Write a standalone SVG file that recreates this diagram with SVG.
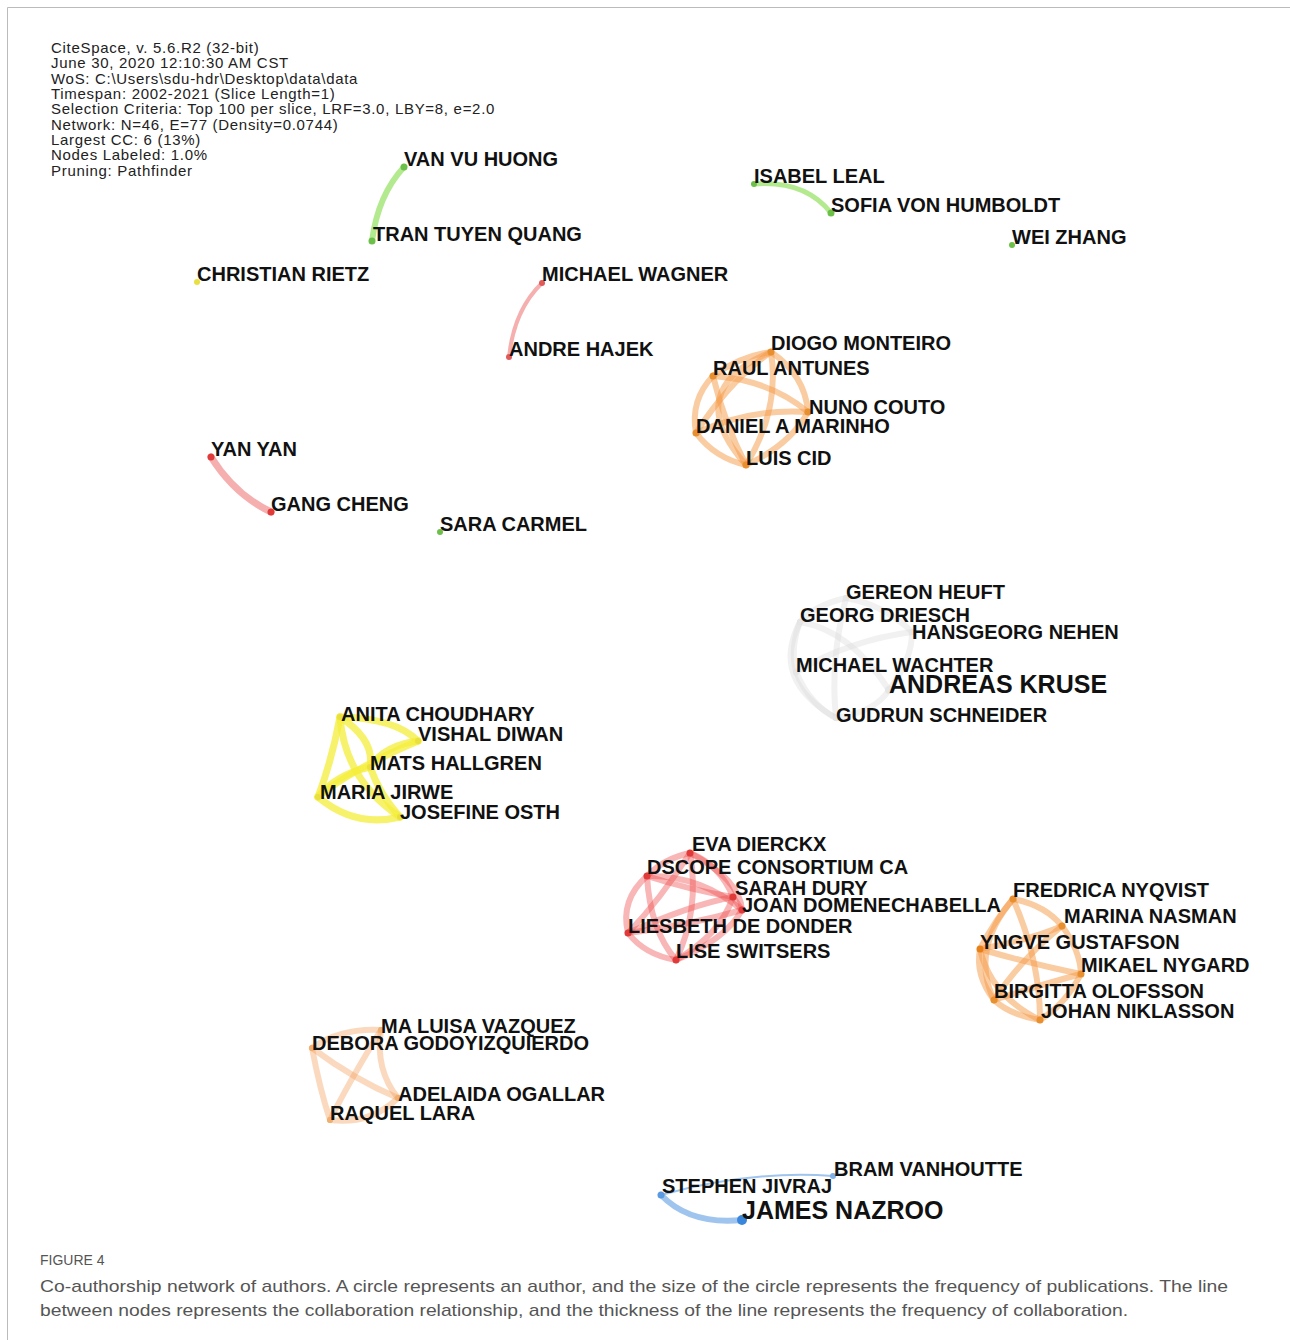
<svg xmlns="http://www.w3.org/2000/svg" width="1290" height="1340" viewBox="0 0 1290 1340">
<style>
.info{font-family:"Liberation Sans",Arial,sans-serif;font-size:15px;letter-spacing:0.7px;fill:#222}
.lb{font-family:"Liberation Sans",Arial,sans-serif;font-size:20px;font-weight:bold;fill:#111}
.big{font-size:25px}
.e{fill:none;stroke-linecap:round}
.gr{stroke:#9be36a;stroke-opacity:.75}
.rd{stroke:#ee4848;stroke-opacity:.4}
.pk{stroke:#ee7a7a;stroke-opacity:.6}
.or{stroke:#f59a45;stroke-opacity:.5}
.or2{stroke:#f2a060;stroke-opacity:.4}
.ye{stroke:#f4ee3a;stroke-opacity:.75}
.gy{stroke:#d8d8d8;stroke-opacity:.35}
.bl{stroke:#7fb0e8;stroke-opacity:.75}
.cap{font-family:"Liberation Sans Narrow","Liberation Sans",Arial,sans-serif;fill:#555}
</style>
<rect width="1290" height="1340" fill="#fff"/>
<path d="M7.5 1340 V7.5 H1290" fill="none" stroke="#bbb" stroke-width="1"/>
<g id="info">
<text class="info" x="51" y="53">CiteSpace, v. 5.6.R2 (32-bit)</text>
<text class="info" x="51" y="68">June 30, 2020 12:10:30 AM CST</text>
<text class="info" x="51" y="84">WoS: C:\Users\sdu-hdr\Desktop\data\data</text>
<text class="info" x="51" y="99">Timespan: 2002-2021 (Slice Length=1)</text>
<text class="info" x="51" y="114">Selection Criteria: Top 100 per slice, LRF=3.0, LBY=8, e=2.0</text>
<text class="info" x="51" y="130">Network: N=46, E=77 (Density=0.0744)</text>
<text class="info" x="51" y="145">Largest CC: 6 (13%)</text>
<text class="info" x="51" y="160">Nodes Labeled: 1.0%</text>
<text class="info" x="51" y="176">Pruning: Pathfinder</text>
</g>
<g id="edges">
<path class="e gr" stroke-width="6" d="M404 167 Q378 195 372 241"/>
<path class="e gr" stroke-width="5" d="M754 184 Q805 180 831 213"/>
<path class="e pk" stroke-width="4" d="M542 283 Q514 310 509 357"/>
<path class="e pk" stroke-width="7" d="M211 457 Q235 495 271 512"/>
<!-- orange cluster 1 -->
<g stroke-width="6">
<path class="e or" d="M771 352 Q740 356 713 376"/>
<path class="e or" d="M713 376 Q690 400 696 433"/>
<path class="e or" d="M696 433 Q715 458 746 465"/>
<path class="e or" d="M746 465 Q790 445 808 412"/>
<path class="e or" d="M771 352 Q805 375 808 412"/>
<path class="e or" d="M713 376 Q770 380 808 412"/>
<path class="e or" d="M771 352 Q780 410 746 465"/>
<path class="e or" d="M696 433 Q750 408 808 412"/>
<path class="e or" d="M713 376 Q725 425 746 465"/>
<path class="e or" d="M771 352 Q730 380 696 433"/>
<path class="e or" d="M771 352 Q680 390 746 465"/>
</g>
<!-- gray cluster -->
<g stroke-width="6">
<path class="e gy" d="M846 598 Q815 605 800 622"/>
<path class="e gy" d="M800 622 Q790 648 796 672"/>
<path class="e gy" d="M796 672 Q810 705 836 718"/>
<path class="e gy" d="M836 718 Q875 712 889 690"/>
<path class="e gy" d="M889 690 Q912 660 912 632"/>
<path class="e gy" d="M912 632 Q885 605 846 598"/>
<path class="e gy" d="M800 622 Q850 630 889 690"/>
<path class="e gy" d="M846 598 Q830 660 836 718"/>
<path class="e gy" d="M796 672 Q850 640 912 632"/>
<path class="e gy" d="M800 622 Q770 680 836 718"/>
</g>
<!-- yellow cluster -->
<g stroke-width="7">
<path class="e ye" d="M340 717 Q395 718 418 741"/>
<path class="e ye" d="M340 717 Q332 760 318 797"/>
<path class="e ye" d="M418 741 Q385 745 370 767"/>
<path class="e ye" d="M418 741 Q350 770 318 797"/>
<path class="e ye" d="M370 767 Q380 795 400 817"/>
<path class="e ye" d="M318 797 Q355 828 400 817"/>
<path class="e ye" d="M340 717 Q375 740 370 767"/>
<path class="e ye" d="M340 717 Q345 780 400 817"/>
<path class="e ye" d="M370 767 Q335 775 318 797"/>
</g>
<!-- red cluster -->
<g stroke-width="6">
<path class="e rd" d="M690 853 Q665 858 647 876"/>
<path class="e rd" d="M647 876 Q620 900 628 933"/>
<path class="e rd" d="M628 933 Q645 955 676 960"/>
<path class="e rd" d="M676 960 Q725 940 742 910"/>
<path class="e rd" d="M733 897 Q720 865 690 853"/>
<path class="e rd" d="M647 876 Q700 875 742 910"/>
<path class="e rd" d="M690 853 Q660 900 628 933"/>
<path class="e rd" d="M647 876 Q690 890 733 897"/>
<path class="e rd" d="M628 933 Q690 905 733 897"/>
<path class="e rd" d="M647 876 Q650 930 676 960"/>
<path class="e rd" d="M690 853 Q740 880 742 910"/>
<path class="e rd" d="M690 853 Q700 910 676 960"/>
<path class="e rd" d="M628 933 Q690 925 742 910"/>
<path class="e rd" d="M733 897 Q720 935 676 960"/>
<path class="e rd" d="M733 897 L742 910"/>
</g>
<!-- orange cluster 2 -->
<g stroke-width="6">
<path class="e or" d="M1013 899 Q995 920 980 949"/>
<path class="e or" d="M1013 899 Q1045 905 1062 926"/>
<path class="e or" d="M1062 926 Q1080 950 1081 974"/>
<path class="e or" d="M1081 974 Q1065 1005 1040 1020"/>
<path class="e or" d="M1040 1020 Q1010 1015 994 1000"/>
<path class="e or" d="M994 1000 Q975 975 980 949"/>
<path class="e or" d="M980 949 Q1030 940 1062 926"/>
<path class="e or" d="M980 949 Q1035 965 1081 974"/>
<path class="e or" d="M1013 899 Q1040 960 1040 1020"/>
<path class="e or" d="M1062 926 Q1020 960 994 1000"/>
<path class="e or" d="M980 949 Q990 995 1040 1020"/>
<path class="e or" d="M994 1000 Q1040 985 1081 974"/>
<path class="e or" d="M1013 899 Q970 950 994 1000"/>
</g>
<!-- orange cluster 3 -->
<g stroke-width="6">
<path class="e or2" d="M381 1030 Q340 1028 312 1048"/>
<path class="e or2" d="M312 1048 Q355 1080 398 1098"/>
<path class="e or2" d="M312 1048 Q320 1090 330 1120"/>
<path class="e or2" d="M381 1030 Q375 1070 398 1098"/>
<path class="e or2" d="M381 1030 Q350 1080 330 1120"/>
<path class="e or2" d="M330 1120 Q370 1125 398 1098"/>
</g>
<!-- blue -->
<path class="e bl" stroke-width="6" d="M661 1195 Q690 1225 742 1220"/>
<path class="e bl" stroke-width="2" stroke-opacity=".4" d="M661 1195 Q750 1170 833 1176"/>
</g>
<g id="n-vanvuhuong"><circle cx="404" cy="167" r="3.5" fill="#6cc04a"/><text class="lb" x="404" y="166">VAN VU HUONG</text></g>
<g id="n-trantuyenquang"><circle cx="372" cy="241" r="3.5" fill="#6cc04a"/><text class="lb" x="373" y="241">TRAN TUYEN QUANG</text></g>
<g id="n-christianrietz"><circle cx="197" cy="282" r="3" fill="#e8e040"/><text class="lb" x="197" y="281">CHRISTIAN RIETZ</text></g>
<g id="n-michaelwagner"><circle cx="542" cy="283" r="3" fill="#e05a5a"/><text class="lb" x="542" y="281">MICHAEL WAGNER</text></g>
<g id="n-andrehajek"><circle cx="509" cy="357" r="3" fill="#e05a5a"/><text class="lb" x="509" y="356">ANDRE HAJEK</text></g>
<g id="n-isabelleal"><circle cx="754" cy="184" r="3" fill="#6cc04a"/><text class="lb" x="754" y="183">ISABEL LEAL</text></g>
<g id="n-sofiavonhumboldt"><circle cx="831" cy="213" r="3.5" fill="#6cc04a"/><text class="lb" x="831" y="212">SOFIA VON HUMBOLDT</text></g>
<g id="n-weizhang"><circle cx="1012" cy="245" r="3" fill="#6cc04a"/><text class="lb" x="1012" y="244">WEI ZHANG</text></g>
<g id="n-diogomonteiro"><circle cx="771" cy="352" r="3.5" fill="#e89030"/><text class="lb" x="771" y="350">DIOGO MONTEIRO</text></g>
<g id="n-raulantunes"><circle cx="713" cy="376" r="3.5" fill="#e89030"/><text class="lb" x="713" y="375">RAUL ANTUNES</text></g>
<g id="n-nunocouto"><circle cx="808" cy="412" r="3.5" fill="#e89030"/><text class="lb" x="809" y="414">NUNO COUTO</text></g>
<g id="n-danielamarinho"><circle cx="696" cy="433" r="3.5" fill="#e89030"/><text class="lb" x="696" y="433">DANIEL A MARINHO</text></g>
<g id="n-luiscid"><circle cx="746" cy="465" r="3.5" fill="#e89030"/><text class="lb" x="746" y="465">LUIS CID</text></g>
<g id="n-yanyan"><circle cx="211" cy="457" r="3.5" fill="#e03a3a"/><text class="lb" x="211" y="456">YAN YAN</text></g>
<g id="n-gangcheng"><circle cx="271" cy="512" r="3.5" fill="#e03a3a"/><text class="lb" x="271" y="511">GANG CHENG</text></g>
<g id="n-saracarmel"><circle cx="440" cy="532" r="3" fill="#6cc04a"/><text class="lb" x="440" y="531">SARA CARMEL</text></g>
<g id="n-gereonheuft"><circle cx="846" cy="598" r="3" fill="#e6e6e6"/><text class="lb" x="846" y="599">GEREON HEUFT</text></g>
<g id="n-georgdriesch"><circle cx="800" cy="622" r="3" fill="#e6e6e6"/><text class="lb" x="800" y="622">GEORG DRIESCH</text></g>
<g id="n-hansgeorgnehen"><circle cx="912" cy="632" r="3" fill="#e6e6e6"/><text class="lb" x="912" y="639">HANSGEORG NEHEN</text></g>
<g id="n-michaelwachter"><circle cx="796" cy="672" r="3" fill="#e6e6e6"/><text class="lb" x="796" y="672">MICHAEL WACHTER</text></g>
<g id="n-andreaskruse"><circle cx="889" cy="690" r="4" fill="#e6e6e6"/><text class="lb big" x="889" y="693">ANDREAS KRUSE</text></g>
<g id="n-gudrunschneider"><circle cx="836" cy="718" r="3" fill="#e6e6e6"/><text class="lb" x="836" y="722">GUDRUN SCHNEIDER</text></g>
<g id="n-anitachoudhary"><circle cx="340" cy="717" r="3" fill="#e8e040"/><text class="lb" x="341" y="721">ANITA CHOUDHARY</text></g>
<g id="n-vishaldiwan"><circle cx="418" cy="741" r="3" fill="#e8e040"/><text class="lb" x="418" y="741">VISHAL DIWAN</text></g>
<g id="n-matshallgren"><circle cx="370" cy="767" r="3" fill="#e8e040"/><text class="lb" x="370" y="770">MATS HALLGREN</text></g>
<g id="n-mariajirwe"><circle cx="318" cy="797" r="3" fill="#e8e040"/><text class="lb" x="320" y="799">MARIA JIRWE</text></g>
<g id="n-josefineosth"><circle cx="400" cy="817" r="3" fill="#e8e040"/><text class="lb" x="400" y="819">JOSEFINE OSTH</text></g>
<g id="n-evadierckx"><circle cx="690" cy="853" r="3.5" fill="#e03a3a"/><text class="lb" x="692" y="851">EVA DIERCKX</text></g>
<g id="n-dscopeconsortiumca"><circle cx="647" cy="876" r="3.5" fill="#e03a3a"/><text class="lb" x="647" y="874">DSCOPE CONSORTIUM CA</text></g>
<g id="n-sarahdury"><circle cx="733" cy="897" r="3.5" fill="#e03a3a"/><text class="lb" x="735" y="895">SARAH DURY</text></g>
<g id="n-joandomenechabella"><circle cx="742" cy="910" r="3.5" fill="#e03a3a"/><text class="lb" x="742" y="912">JOAN DOMENECHABELLA</text></g>
<g id="n-liesbethdedonder"><circle cx="628" cy="933" r="3.5" fill="#e03a3a"/><text class="lb" x="628" y="933">LIESBETH DE DONDER</text></g>
<g id="n-liseswitsers"><circle cx="676" cy="960" r="3.5" fill="#e03a3a"/><text class="lb" x="676" y="958">LISE SWITSERS</text></g>
<g id="n-fredricanyqvist"><circle cx="1013" cy="899" r="3.5" fill="#e89030"/><text class="lb" x="1013" y="897">FREDRICA NYQVIST</text></g>
<g id="n-marinanasman"><circle cx="1062" cy="926" r="3.5" fill="#e89030"/><text class="lb" x="1064" y="923">MARINA NASMAN</text></g>
<g id="n-yngvegustafson"><circle cx="980" cy="949" r="3.5" fill="#e8801a"/><text class="lb" x="980" y="949">YNGVE GUSTAFSON</text></g>
<g id="n-mikaelnygard"><circle cx="1081" cy="974" r="3.5" fill="#e89030"/><text class="lb" x="1081" y="972">MIKAEL NYGARD</text></g>
<g id="n-birgittaolofsson"><circle cx="994" cy="1000" r="3.5" fill="#e89030"/><text class="lb" x="994" y="998">BIRGITTA OLOFSSON</text></g>
<g id="n-johanniklasson"><circle cx="1040" cy="1020" r="3.5" fill="#e89030"/><text class="lb" x="1041" y="1018">JOHAN NIKLASSON</text></g>
<g id="n-maluisavazquez"><circle cx="381" cy="1030" r="3" fill="#eeb070"/><text class="lb" x="381" y="1033">MA LUISA VAZQUEZ</text></g>
<g id="n-deboragodoyizquierdo"><circle cx="312" cy="1048" r="3" fill="#eeb070"/><text class="lb" x="312" y="1050">DEBORA GODOYIZQUIERDO</text></g>
<g id="n-adelaidaogallar"><circle cx="398" cy="1098" r="3" fill="#eeb070"/><text class="lb" x="398" y="1101">ADELAIDA OGALLAR</text></g>
<g id="n-raquellara"><circle cx="330" cy="1120" r="3" fill="#eeb070"/><text class="lb" x="330" y="1120">RAQUEL LARA</text></g>
<g id="n-bramvanhoutte"><circle cx="833" cy="1176" r="3" fill="#7fb0e8"/><text class="lb" x="834" y="1176">BRAM VANHOUTTE</text></g>
<g id="n-stephenjivraj"><circle cx="661" cy="1195" r="3.5" fill="#5a9ae0"/><text class="lb" x="662" y="1193">STEPHEN JIVRAJ</text></g>
<g id="n-jamesnazroo"><circle cx="742" cy="1220" r="5" fill="#3a86dc"/><text class="lb big" x="742" y="1219">JAMES NAZROO</text></g>
<g id="caption">
<text class="cap" x="40" y="1265" font-size="14">FIGURE 4</text>
<text class="cap" x="40" y="1292" font-size="17" textLength="1188" lengthAdjust="spacingAndGlyphs">Co-authorship network of authors. A circle represents an author, and the size of the circle represents the frequency of publications. The line</text>
<text class="cap" x="40" y="1316" font-size="17" textLength="1088" lengthAdjust="spacingAndGlyphs">between nodes represents the collaboration relationship, and the thickness of the line represents the frequency of collaboration.</text>
</g>
</svg>
